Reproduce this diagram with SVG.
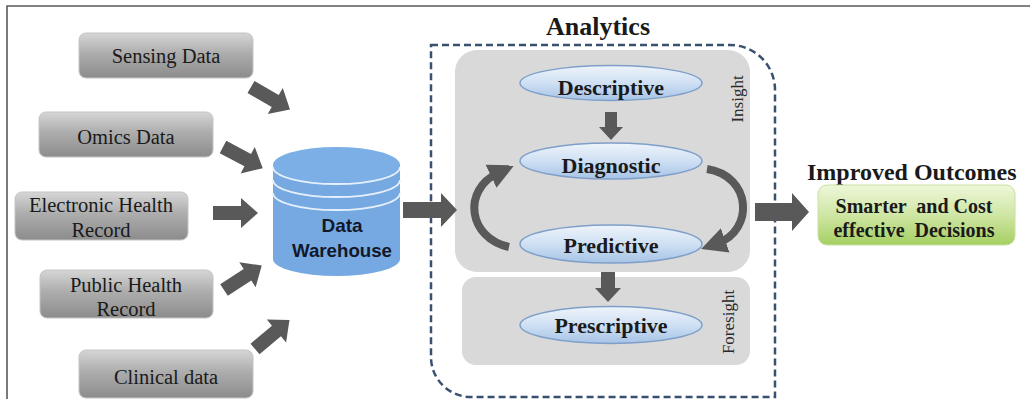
<svg xmlns="http://www.w3.org/2000/svg" width="1030" height="399" viewBox="0 0 1030 399">
<defs>
<linearGradient id="gGrey" x1="0" y1="0" x2="0" y2="1">
<stop offset="0" stop-color="#d6d6d6"/>
<stop offset="0.45" stop-color="#adadad"/>
<stop offset="1" stop-color="#8c8c8c"/>
</linearGradient>
<linearGradient id="gBlue" x1="0" y1="0" x2="0" y2="1">
<stop offset="0" stop-color="#eef4fb"/>
<stop offset="0.5" stop-color="#cfe0f3"/>
<stop offset="1" stop-color="#a6c3e6"/>
</linearGradient>
<linearGradient id="gGreen" x1="0" y1="0" x2="0" y2="1">
<stop offset="0" stop-color="#eef7d9"/>
<stop offset="0.5" stop-color="#cfe6a4"/>
<stop offset="1" stop-color="#a5cf62"/>
</linearGradient>
<path id="blk" d="M0,-7 H28 V-15 L45,0 L28,15 V7 H0 Z"/>
<marker id="ah" viewBox="0 0 10 10" refX="3" refY="5" markerWidth="3.2" markerHeight="3.4" orient="auto" markerUnits="strokeWidth">
<path d="M0,0 L10,5 L0,10 Z" fill="#595959"/>
</marker>
</defs>
<style>
.src rect{fill:url(#gGrey);stroke:#c4c4c4;stroke-width:1}
.src text{font-family:"Liberation Serif",serif;font-size:20.5px;fill:#1a1a1a;text-anchor:middle}
.ell ellipse{fill:url(#gBlue);stroke:#7f9fc9;stroke-width:1.5}
.ell text{font-family:"Liberation Serif",serif;font-size:22px;font-weight:bold;fill:#1a1a1a;text-anchor:middle}
.arw{fill:#595959}
.side{font-family:"Liberation Serif",serif;font-size:17px;fill:#2a2a2a;text-anchor:middle}
</style>
<rect width="1030" height="399" fill="#ffffff"/>
<path d="M7,399 V6 H1030" fill="none" stroke="#5a5a5a" stroke-width="1.6"/>

<g id="analytics">
<path d="M431,45 H730 A45,45 0 0 1 775,90 V397 H471 A40,40 0 0 1 431,357 Z" fill="none" stroke="#3a5070" stroke-width="2.5" stroke-dasharray="7 4"/>
<text x="598" y="35" font-family="Liberation Serif,serif" font-size="26" font-weight="bold" fill="#1a1a1a" text-anchor="middle">Analytics</text>
<rect x="455" y="50" width="295" height="222" rx="22" fill="#d9d9d9"/>
<rect x="462" y="277" width="288" height="88" rx="14" fill="#d9d9d9"/>
<text class="side" transform="translate(743,99) rotate(-90)">Insight</text>
<text class="side" transform="translate(734,322) rotate(-90)">Foresight</text>
</g>

<g id="sensing" class="src"><rect x="79" y="33" width="174" height="45" rx="7"/><text x="166" y="63">Sensing Data</text></g>
<g id="omics" class="src"><rect x="39" y="112" width="174" height="45" rx="7"/><text x="126" y="144">Omics Data</text></g>
<g id="ehr" class="src"><rect x="15" y="192" width="173" height="48" rx="7"/><text x="101" y="212">Electronic Health</text><text x="101" y="237">Record</text></g>
<g id="phr" class="src"><rect x="40" y="270" width="173" height="48" rx="7"/><text x="126" y="292">Public Health</text><text x="126" y="316">Record</text></g>
<g id="clinical" class="src"><rect x="79" y="350" width="174" height="48" rx="7"/><text x="166" y="384">Clinical data</text></g>

<g id="warehouse">
<path d="M273,165 V259 A63.5,17 0 0 0 400,259 V165 Z" fill="#76a9e2"/>
<ellipse cx="336.5" cy="165" rx="63.5" ry="18" fill="#7cafe6"/>
<path d="M273,167 A63.5,17 0 0 0 400,167" fill="none" stroke="#e6f0fb" stroke-width="1.8"/>
<path d="M273,180 A63.5,17 0 0 0 400,180" fill="none" stroke="#e6f0fb" stroke-width="1.8"/>
<path d="M273,193 A63.5,17 0 0 0 400,193" fill="none" stroke="#e6f0fb" stroke-width="1.8"/>
<text x="342" y="232" font-family="Liberation Sans,sans-serif" font-size="19" font-weight="bold" fill="#12182a" text-anchor="middle">Data</text>
<text x="342" y="257" font-family="Liberation Sans,sans-serif" font-size="19" font-weight="bold" fill="#12182a" text-anchor="middle" textLength="100" lengthAdjust="spacingAndGlyphs">Warehouse</text>
</g>

<g id="descriptive" class="ell"><ellipse cx="611" cy="83" rx="91" ry="17.5"/><text x="611" y="95">Descriptive</text></g>
<g id="diagnostic" class="ell"><ellipse cx="611" cy="161" rx="91" ry="18"/><text x="611" y="173">Diagnostic</text></g>
<g id="predictive" class="ell"><ellipse cx="611" cy="244" rx="91" ry="19"/><text x="611" y="253">Predictive</text></g>
<g id="prescriptive" class="ell"><ellipse cx="611" cy="325" rx="91" ry="18.5"/><text x="611" y="333">Prescriptive</text></g>

<g id="outcomes">
<text x="807" y="180" font-family="Liberation Serif,serif" font-size="24" font-weight="bold" fill="#1a1a1a">Improved Outcomes</text>
<rect x="818" y="185" width="197" height="60" rx="9" fill="url(#gGreen)" stroke="#c9e0a2" stroke-width="1"/>
<text x="914" y="213" font-family="Liberation Serif,serif" font-size="20" font-weight="bold" fill="#1a1a1a" text-anchor="middle" xml:space="preserve">Smarter  and Cost</text>
<text x="914" y="237" font-family="Liberation Serif,serif" font-size="20" font-weight="bold" fill="#1a1a1a" text-anchor="middle" xml:space="preserve">effective  Decisions</text>
</g>

<g id="connectors">
<use href="#blk" class="arw" transform="translate(251,87) rotate(30)"/>
<use href="#blk" class="arw" transform="translate(223,147) rotate(28)"/>
<use href="#blk" class="arw" transform="translate(213,213)"/>
<use href="#blk" class="arw" transform="translate(224,290) rotate(-33)"/>
<use href="#blk" class="arw" transform="translate(255,349) rotate(-40)"/>
<path class="arw" d="M403,202 H441 V193 L457,210 L441,227 V218 H403 Z"/>
<path class="arw" d="M755,203 H792 V193 L809,212 L792,231 V221 H755 Z"/>
<path class="arw" d="M605,112 H617 V127 H623 L611,140 L599,127 H605 Z"/>
<path class="arw" d="M601,272 H615 V288 H621 L608,302 L595,288 H601 Z"/>
<path d="M509,247 C468,238 462,190 498,173" fill="none" stroke="#595959" stroke-width="8" marker-end="url(#ah)"/>
<path d="M707,169 C752,176 754,230 718,243" fill="none" stroke="#595959" stroke-width="8" marker-end="url(#ah)"/>
</g>
</svg>
